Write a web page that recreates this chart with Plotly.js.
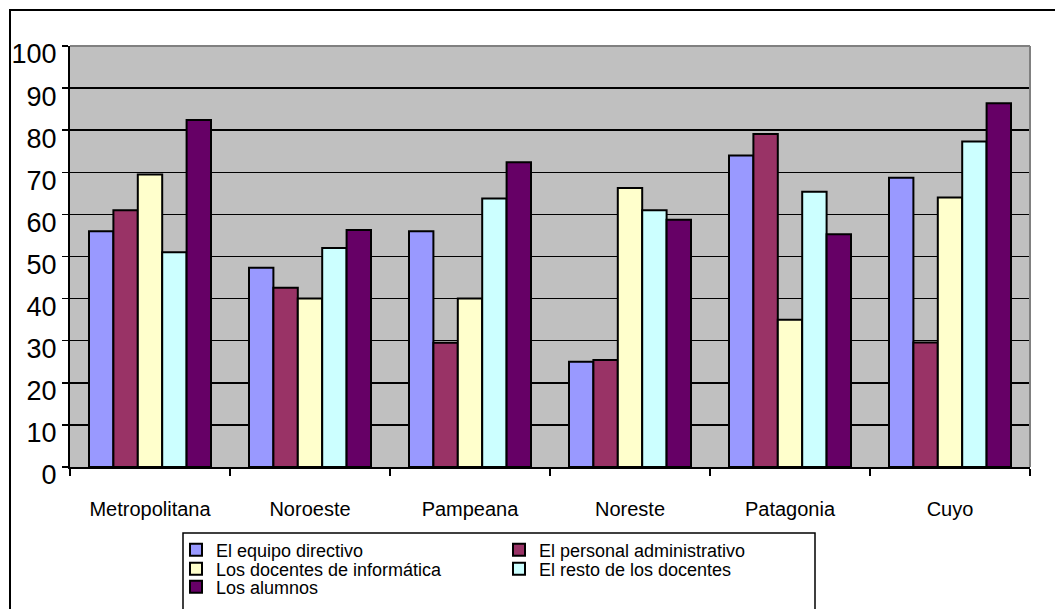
<!DOCTYPE html>
<html><head><meta charset="utf-8">
<script src="https://cdn.plot.ly/plotly-3.0.1.min.js"></script>
<style>html,body{margin:0;padding:0;background:#fff}#chart{width:1055px;height:609px}</style>
</head><body><div id="chart"></div>
<script>
// ---- data ----
const categories = ["Metropolitana", "Noroeste", "Pampeana", "Noreste", "Patagonia", "Cuyo"];
const seriesNames = ["El equipo directivo", "El personal administrativo", "Los docentes de informática", "El resto de los docentes", "Los alumnos"];
const equipoDirectivo = [56, 47.3, 56, 25, 74, 68.7];
const personalAdministrativo = [61, 42.6, 29.5, 25.4, 79.1, 29.6];
const docentesInformatica = [69.5, 40, 40, 66.3, 35, 64];
const restoDocentes = [51, 52, 63.8, 61, 65.4, 77.3];
const alumnos = [82.4, 56.3, 72.4, 58.7, 55.3, 86.4];
const yTickVals = [0, 10, 20, 30, 40, 50, 60, 70, 80, 90, 100];

const seriesValues = [equipoDirectivo, personalAdministrativo, docentesInformatica, restoDocentes, alumnos];
const colors = ["#9999FF", "#993366", "#FFFFCC", "#CCFFFF", "#660066"];
const legendIds = ["legend", "legend", "legend2", "legend2", "legend3"];

const FONT = "Arial, 'Liberation Sans', sans-serif";

const traces = seriesNames.map((name, i) => ({
  type: "bar",
  name: name,
  x: categories,
  y: seriesValues[i],
  marker: {color: colors[i], line: {color: "#000", width: 2}},
  legend: legendIds[i],
  hoverinfo: "x+y+name"
}));

const W = 1055, H = 609;
const ml = 70, mr = 25, mt = 46, mb = 142;
const pw = W - ml - mr, ph = H - mt - mb;
const px2x = p => (p - ml) / pw;
const py2y = p => (H - mb - p) / ph;

const legendBase = {
  orientation: "h",
  xref: "container", yref: "container",
  xanchor: "left", yanchor: "middle",
  x: 176 / W,
  font: {family: FONT, size: 18, color: "#000"},
  bgcolor: "rgba(0,0,0,0)",
  borderwidth: 0,
  entrywidth: 278,
  entrywidthmode: "pixels",
  itemclick: false, itemdoubleclick: false,
  tracegroupgap: 0
};

const layout = {
  width: W, height: H,
  margin: {l: ml, r: mr, t: mt, b: mb, autoexpand: false},
  paper_bgcolor: "#fff",
  plot_bgcolor: "#C0C0C0",
  font: {family: FONT, color: "#000"},
  barmode: "group",
  bargap: 0.2375,
  bargroupgap: 0,
  showlegend: true,
  legend: Object.assign({}, legendBase, {y: 1 - 550 / H}),
  legend2: Object.assign({}, legendBase, {y: 1 - 569 / H}),
  legend3: Object.assign({}, legendBase, {y: 1 - 587 / H}),
  xaxis: {
    type: "category",
    showgrid: false,
    showline: true, linecolor: "#000", linewidth: 2,
    ticks: "outside", tickson: "boundaries", ticklen: 7, tickwidth: 1.5, tickcolor: "#000",
    tickfont: {family: FONT, size: 20, color: "#000"},
    ticklabelstandoff: 23,
    zeroline: false,
    fixedrange: true
  },
  yaxis: {
    range: [0, 100],
    tickmode: "array", tickvals: yTickVals,
    showgrid: true, gridcolor: "#000", gridwidth: 1.5,
    showline: true, linecolor: "#000", linewidth: 2,
    ticks: "outside", ticklen: 6, tickwidth: 1.5, tickcolor: "#000",
    tickfont: {family: FONT, size: 27, color: "#000"},
    ticklabelshift: 8,
    ticklabelstandoff: 0,
    zeroline: false,
    fixedrange: true
  },
  shapes: [
    // plot area top / right gray edge
    {type: "line", xref: "paper", yref: "paper", x0: 0, x1: 1, y0: 1, y1: 1, line: {color: "#808080", width: 2}, layer: "above"},
    {type: "line", xref: "paper", yref: "paper", x0: 1, x1: 1, y0: 0, y1: 1, line: {color: "#808080", width: 2}, layer: "above"},
    // legend box
    {type: "rect", xref: "paper", yref: "paper", x0: px2x(183), x1: px2x(815), y0: py2y(625), y1: py2y(533), line: {color: "#000", width: 1.5}, fillcolor: "rgba(0,0,0,0)", layer: "above"},
    // outer chart border
    {type: "rect", xref: "paper", yref: "paper", x0: px2x(10), x1: px2x(1070), y0: py2y(625), y1: py2y(10), line: {color: "#000", width: 2}, fillcolor: "rgba(0,0,0,0)", layer: "above"}
  ]
};

Plotly.newPlot("chart", traces, layout, {displayModeBar: false, staticPlot: true});
</script>
</body></html>
